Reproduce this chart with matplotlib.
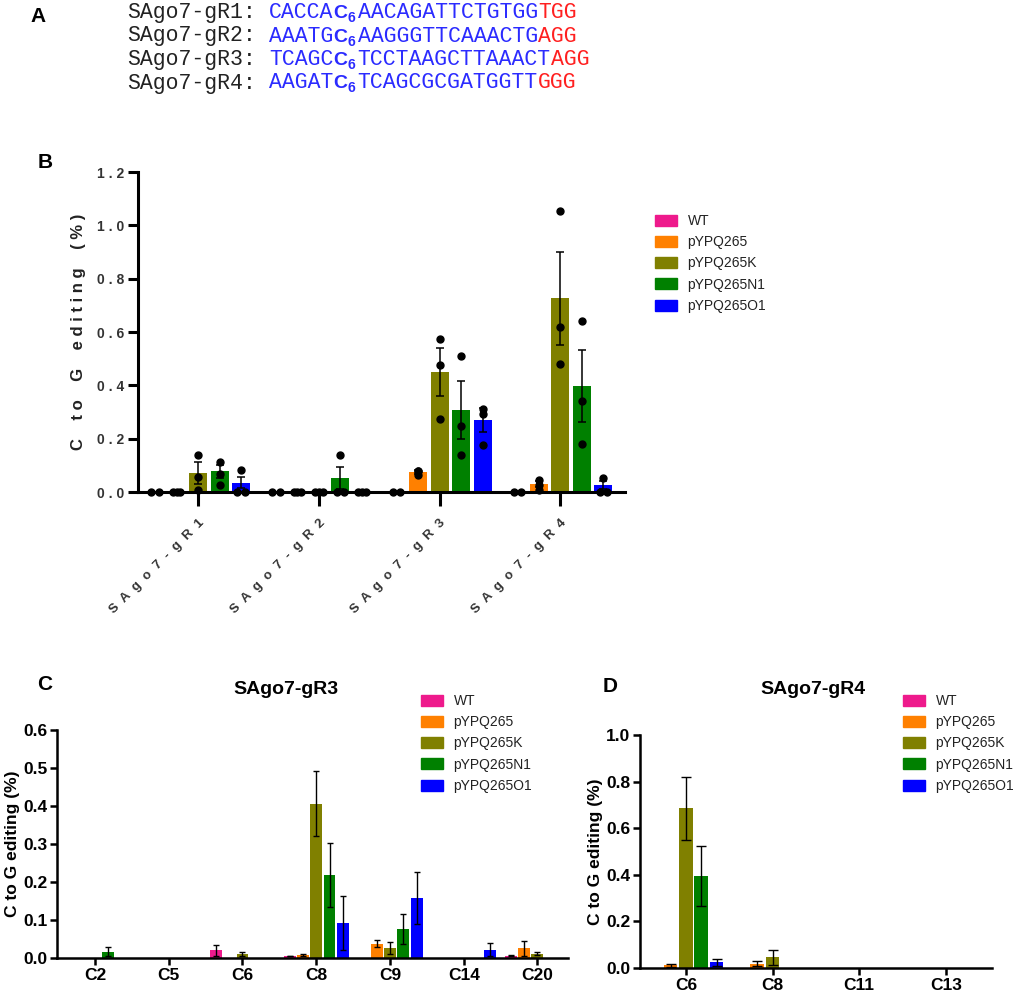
import matplotlib
matplotlib.use("Agg")
import matplotlib.pyplot as plt
import numpy as np
from matplotlib.patches import Patch

W, H = 1017, 996
plt.rcParams['font.family'] = ['Liberation Sans', 'DejaVu Sans']

# DATA #
series = ["WT", "pYPQ265", "pYPQ265K", "pYPQ265N1", "pYPQ265O1"]
colors = ['#ee1a8c', '#ff8000', '#808000', '#008000', '#0000ff']

guides = ["SAgo7-gR1", "SAgo7-gR2", "SAgo7-gR3", "SAgo7-gR4"]
spacers = ["CACCA", "AAATG", "TCAGC", "AAGAT"]
spacers_rest = ["AACAGATTCTGTGG", "AAGGGTTCAAACTG", "TCCTAAGCTTAAACT", "TCAGCGCGATGGTT"]
pams = ["TGG", "AGG", "AGG", "GGG"]

# panel B: mean, sem and single replicates per series (one entry per guide)
b_mean = [[0, 0, 0, 0],
          [0, 0, 0.075, 0.029],
          [0.071, 0, 0.45, 0.726],
          [0.077, 0.052, 0.308, 0.396],
          [0.035, 0, 0.27, 0.025]]
b_sem = [[0, 0, 0, 0],
         [0, 0, 0.006, 0.011],
         [0.04, 0, 0.09, 0.175],
         [0.026, 0.041, 0.11, 0.135],
         [0.021, 0, 0.045, 0.015]]
b_dots = [[[0, 0], [0, 0], [0, 0], [0, 0]],
          [[0, 0, 0], [0, 0, 0], [0.08, 0.077, 0.065], [0.044, 0.027, 0.006]],
          [[0.137, 0.056, 0.006], [0, 0, 0], [0.572, 0.475, 0.274], [1.055, 0.619, 0.479]],
          [[0.112, 0.068, 0.027], [0.137, 0, 0], [0.51, 0.249, 0.14], [0.64, 0.342, 0.18]],
          [[0.081, 0, 0], [0, 0, 0], [0.313, 0.292, 0.177], [0.053, 0, 0]]]

# panel C: SAgo7-gR3 per position
c_pos = ["C2", "C5", "C6", "C8", "C9", "C14", "C20"]
c_mean = [[0, 0, 0.020, 0.005, 0, 0, 0.006],
          [0, 0, 0, 0.008, 0.038, 0, 0.026],
          [0, 0, 0.0105, 0.406, 0.026, 0, 0.011],
          [0.016, 0, 0, 0.218, 0.076, 0, 0],
          [0, 0, 0, 0.092, 0.158, 0.022, 0]]
c_sem = [[0, 0, 0.015, 0.001, 0, 0, 0.001],
         [0, 0, 0, 0.003, 0.010, 0, 0.020],
         [0, 0, 0.0065, 0.085, 0.016, 0, 0.004],
         [0.012, 0, 0, 0.085, 0.039, 0, 0],
         [0, 0, 0, 0.072, 0.068, 0.018, 0]]

# panel D: SAgo7-gR4 per position
d_pos = ["C6", "C8", "C11", "C13"]
d_mean = [[0, 0, 0, 0],
          [0.012, 0.019, 0, 0],
          [0.685, 0.046, 0, 0],
          [0.394, 0, 0, 0],
          [0.0245, 0, 0, 0]]
d_sem = [[0, 0, 0, 0],
         [0.006, 0.009, 0, 0],
         [0.135, 0.033, 0, 0],
         [0.128, 0, 0, 0],
         [0.0145, 0, 0, 0]]


def px_axes(fig, left, top, right, bottom):
    return fig.add_axes([left / W, 1 - bottom / H, (right - left) / W, (bottom - top) / H])


def fx(x):
    return x / W


def fy(y):
    return 1 - y / H


def draw_groups(ax, means, sems, gap, width, lw, cap, dots=None):
    for i, (m, s, c) in enumerate(zip(means, sems, colors)):
        x = np.arange(len(m)) * gap + (i - 2)
        ax.bar(x, m, width, color=c, zorder=2)
        for xi, mi, si in zip(x, m, s):
            if si > 0:
                ax.errorbar(xi, mi, yerr=si, color='black', lw=lw, capsize=cap,
                            capthick=lw, zorder=3)
        if dots is None:
            continue
        for xi, pts in zip(x, dots[i]):
            pts = np.array(pts)
            for v in np.unique(pts):
                k = np.sum(pts == v)
                offs = (np.arange(k) - (k - 1) / 2) * (0.35 / max(k - 1, 1))
                ax.plot(xi + offs, [v] * k, 'o', color='black', ms=5,
                        zorder=4, clip_on=False)
    return np.arange(len(means[0])) * gap


def style_axes(ax, lw):
    for sp in ['top', 'right']:
        ax.spines[sp].set_visible(False)
    for sp in ['left', 'bottom']:
        ax.spines[sp].set_linewidth(lw)


def add_legend(fig, x, y, fs=10):
    handles = [Patch(color=c, label=s) for c, s in zip(colors, series)]
    fig.legend(handles=handles, loc='upper left', bbox_to_anchor=(fx(x), fy(y)),
               frameon=False, fontsize=fs, borderpad=0, borderaxespad=0,
               handlelength=1.6, handleheight=0.85, handletextpad=0.75,
               labelspacing=0.52, labelcolor='#222222')


fig = plt.figure(figsize=(W / 100, H / 100), dpi=100)

# PANEL A #
cw = 12.9
fig.text(fx(38), fy(17), "A", fontsize=15, fontweight='bold', ha='center', va='center')
for j in range(4):
    yb = 18 + j * 23.5
    base = fy(yb)
    fig.text(fx(127), base, guides[j] + ":", family='Liberation Mono', fontsize=15.5,
             color='#222222', va='baseline')
    xs = 269
    fig.text(fx(xs), base, spacers[j], family='Liberation Mono', fontsize=15.5,
             color='#2b2bff', va='baseline')
    xc = xs + 5 * cw
    fig.text(fx(xc), base, "C", fontsize=14, fontweight='bold', color='#2b2bff', va='baseline')
    fig.text(fx(xc + 14.5), fy(yb + 4), "6", fontsize=10, fontweight='bold',
             color='#2b2bff', va='baseline')
    xr = xc + 24
    fig.text(fx(xr), base, spacers_rest[j], family='Liberation Mono', fontsize=15.5,
             color='#2b2bff', va='baseline')
    xp = xr + len(spacers_rest[j]) * cw
    fig.text(fx(xp), base, pams[j], family='Liberation Mono', fontsize=15.5,
             color='#ff2020', va='baseline')

# PANEL B #
axb = px_axes(fig, 138, 172, 625, 492)
ticks_b = draw_groups(axb, b_mean, b_sem, 5.63, 0.84, 1.1, 2.9, dots=b_dots)
axb.set_xlim(-2.8, 19.9)
axb.set_ylim(0, 1.2)
style_axes(axb, 2.2)
yt = np.arange(0, 1.21, 0.2)
axb.set_yticks(yt)
axb.set_yticklabels([" . ".join(f"{v:.1f}".split(".")) for v in yt],
                    fontsize=10, fontweight='bold', color='#333333')
axb.set_xticks(ticks_b)
axb.set_xticklabels(["  ".join(g) for g in guides], rotation=45, ha='right',
                    rotation_mode='anchor', fontsize=9.5, fontweight='bold', color='#333333')
axb.tick_params(axis='y', length=7, width=2.2, pad=3)
axb.tick_params(axis='x', length=10, width=2.2, pad=8)
axb.set_ylabel("C    t o    G    e d i t i n g    ( % )", fontsize=12, fontweight='bold',
               color='#222222', labelpad=8)
fig.text(fx(45), fy(162), "B", fontsize=15, fontweight='bold', ha='center', va='center')
add_legend(fig, 655, 214)

# PANEL C #
axc = px_axes(fig, 57, 730, 568, 958)
ticks_c = draw_groups(axc, c_mean, c_sem, 5.55, 0.9, 1.0, 2.5)
axc.set_xlim(-2.86, 35.6)
axc.set_ylim(0, 0.6)
style_axes(axc, 1.8)
axc.set_yticks(np.arange(0, 0.61, 0.1))
axc.yaxis.set_major_formatter(matplotlib.ticker.FormatStrFormatter('%.1f'))
axc.set_xticks(ticks_c)
axc.set_xticklabels(c_pos)
axc.tick_params(length=5, width=1.8, labelsize=12.5, pad=2)
for t in axc.get_xticklabels() + axc.get_yticklabels():
    t.set_fontweight('bold')
axc.set_ylabel("C to G editing (%)", fontsize=12.5, fontweight='bold', labelpad=2)
fig.text(fx(286), fy(689), "SAgo7-gR3", fontsize=14, fontweight='bold', ha='center', va='center')
fig.text(fx(45), fy(685), "C", fontsize=15, fontweight='bold', ha='center', va='center')
add_legend(fig, 421, 694)

# PANEL D #
axd = px_axes(fig, 640, 735, 992, 968)
ticks_d = draw_groups(axd, d_mean, d_sem, 5.66, 0.88, 1.0, 3.5)
axd.set_xlim(-3.0, 20.0)
axd.set_ylim(0, 1.0)
style_axes(axd, 1.8)
axd.set_yticks(np.arange(0, 1.01, 0.2))
axd.yaxis.set_major_formatter(matplotlib.ticker.FormatStrFormatter('%.1f'))
axd.set_xticks(ticks_d)
axd.set_xticklabels(d_pos)
axd.tick_params(length=5, width=1.8, labelsize=12.5, pad=2)
for t in axd.get_xticklabels() + axd.get_yticklabels():
    t.set_fontweight('bold')
axd.set_ylabel("C to G editing (%)", fontsize=12.5, fontweight='bold', labelpad=2)
fig.text(fx(813), fy(689), "SAgo7-gR4", fontsize=14, fontweight='bold', ha='center', va='center')
fig.text(fx(610), fy(686), "D", fontsize=15, fontweight='bold', ha='center', va='center')
add_legend(fig, 903, 694)

fig.savefig("out.png", dpi=100)
